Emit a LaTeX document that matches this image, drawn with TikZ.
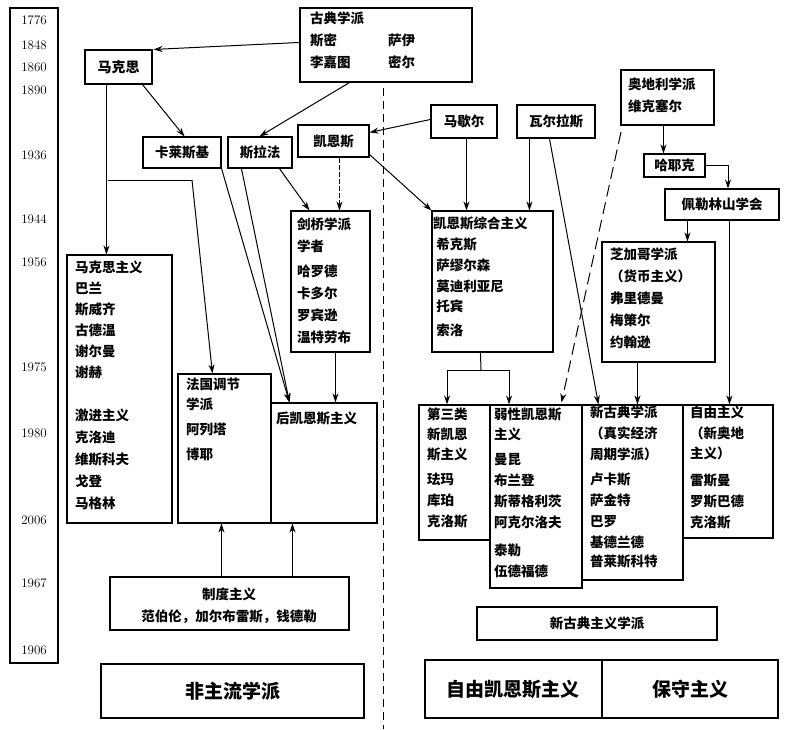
\documentclass[tikz,border=0pt]{standalone}
\usepackage{fontspec}
\newfontfamily\cjk{Noto Sans CJK SC}
\usetikzlibrary{fit,arrows.meta,calc}
\begin{document}
\begin{tikzpicture}[x=1pt,y=-1pt,
  box/.style={draw,line width=1.1pt,inner sep=0pt},
  txt/.style={font=\cjk\bfseries\fontsize{13.5}{22}\selectfont,align=left,inner sep=0pt,anchor=north west},
  yr/.style={font=\fontsize{13}{13}\selectfont,inner sep=0pt},
  big/.style={font=\cjk\bfseries\fontsize{19}{22}\selectfont,inner sep=0pt},
  ar/.style={line width=1pt,-{Stealth[length=9pt,width=6pt]}},
  ln/.style={line width=1pt}]
\useasboundingbox (0,0) rectangle (791,729);
\newcommand\bx[5]{\node[box,fit={(#2,#3)(#4,#5)}] (#1) {};}
% timeline
\bx{tl}{10}{8}{58}{663}
\foreach \yv/\yy [count=\i] in {1776/20,1848/45,1860/67,1890/90,1936/155,1944/219,1956/262,1975/367,1980/433,2006/520,1967/583,1906/650}
  \node[yr] (y\i) at (34,\yy) {\yv};
% boxes
\bx{gd}{300}{8}{472}{82}
\node[txt] (gdt) at (310,12) {古典学派\\斯密\\李嘉图};
\node[txt] (gdt2) at (388,34) {萨伊\\密尔};
\bx{mk}{85}{50}{152}{84}\node[big,font=\cjk\bfseries\fontsize{14}{16}\selectfont] (mkt) at (mk) {马克思};
\bx{kl}{143}{137}{221}{168}\node[txt,anchor=center] (klt) at (kl) {卡莱斯基};
\bx{sl}{228}{137}{292}{168}\node[txt,anchor=center] (slt) at (sl) {斯拉法};
\bx{ke}{298}{125}{369}{157}\node[txt,anchor=center] (ket) at (ke) {凯恩斯};
\bx{mr}{431}{105}{497}{138}\node[txt,anchor=center] (mrt) at (mr) {马歇尔};
\bx{wl}{517}{105}{595}{138}\node[txt,anchor=center] (wlt) at (wl) {瓦尔拉斯};
\bx{ad}{621}{70}{714}{125}
\node[txt] (adt) at (628,78) {奥地利学派\\维克塞尔};
\bx{hy}{644}{154}{705}{177}\node[txt,anchor=center] (hyt) at (hy) {哈耶克};
\bx{pl}{665}{189}{779}{220}\node[txt,anchor=center] (plt) at (pl) {佩勒林山学会};
\bx{jq}{291}{211}{370}{352}
\node[txt] (jqt) at (297,218) {剑桥学派\\学者\\[3pt]哈罗德\\卡多尔\\罗宾逊\\温特劳布};
\bx{zh}{432}{211}{553}{352}
\node[txt] (zht) at (433,217) {凯恩斯综合主义\\[-1pt]\ 希克斯\\[-1pt]\ 萨缪尔森\\[-1pt]\ 莫迪利亚尼\\[-2pt]\ 托宾\\[2pt]\ 索洛};
\bx{zj}{602}{242}{715}{362}
\node[txt] (zjt) at (610,248) {芝加哥学派\\（货币主义）\\弗里德曼\\梅策尔\\约翰逊};
\bx{mz}{67}{255}{172}{523}
\node[txt] (mzt) at (75,261) {马克思主义\\[-1pt]巴兰\\[-1pt]斯威齐\\[-1pt]古德温\\[-1pt]谢尔曼\\[-1pt]谢赫\\[21pt]激进主义\\克洛迪\\维斯科夫\\戈登\\马格林};
\bx{fg}{178}{374}{271}{523}
\node[txt] (fgt) at (186,378) {法国调节\\[-2pt]学派\\[3pt]阿列塔\\[3pt]博耶};
\bx{hk}{271}{403}{377}{523}
\node[txt] (hkt) at (276,412) {后凯恩斯主义};
\bx{zd}{110}{577}{349}{630}
\node[txt,anchor=center] (zdt) at (229,594) {制度主义};
\node[txt,anchor=center] (zdt2) at (229,617) {范伯伦，加尔布雷斯，钱德勒};
\bx{fz}{101}{664}{364}{718}\node[big] (fzt) at (fz) {非主流学派};
% right bottom
\bx{ds}{419}{405}{490}{540}
\node[txt] (dst) at (427,408) {第三类\\[-2pt]新凯恩\\[-2pt]斯主义\\[3pt]珐玛\\[-1pt]库珀\\[-1pt]克洛斯};
\bx{rx}{490}{405}{582}{588}
\node[txt] (rxt) at (494,408) {弱性凯恩斯\\[-2pt]主义\\[3pt]曼昆\\[-1pt]布兰登\\[-1pt]斯蒂格利茨\\[-1pt]阿克尔洛夫\\[6pt]泰勒\\[-1pt]伍德福德};
\bx{xg}{582}{405}{683}{580}
\node[txt] (xgt) at (590,406) {新古典学派\\[-1pt]（真实经济\\[-1pt]周期学派）\\[3pt]卢卡斯\\[-1pt]萨金特\\[-1pt]巴罗\\[-1pt]基德兰德\\[-3pt]普莱斯科特};
\bx{zy}{683}{405}{773}{538}
\node[txt] (zyt) at (690,406) {自由主义\\[-1pt]（新奥地\\[-2pt]主义）\\[5pt]雷斯曼\\[-1pt]罗斯巴德\\[-1pt]克洛斯};
\bx{xd}{477}{607}{717}{640}\node[txt,anchor=center] (xdt) at (xd) {新古典主义学派};
\bx{bt}{425}{660}{778}{718}
\coordinate (btd1) at (602,660); \coordinate (btd2) at (602,718);
\draw[line width=1.1pt] (btd1) -- (btd2);
\node[big] (bt1) at (513,689) {自由凯恩斯主义};
\node[big] (bt2) at (690,689) {保守主义};
% dashed divider
\coordinate (dv1) at (383,88); \coordinate (dv2) at (383,729);
\draw[line width=1pt,dash pattern=on 8pt off 5pt] (dv1) -- (dv2);
% arrows
\draw[ar] ($(gd.north west)+(0,35)$) -- ($(mk.north east)+(1,0)$);
\draw[ar] ($(gd.south west)+(50,0)$) -- ($(sl.north west)+(32,0)$);
\draw[ar] ($(mk.south west)+(58,0)$) -- ($(kl.north west)+(42,0)$);
\draw[ar] ($(mk.south west)+(22,0)$) -- ($(mz.north west)+(40,0)$);
\coordinate (br1) at (108,180); \coordinate (br2) at (192,180);
\draw[ln] (br1) -- (br2);
\draw[ar] (br2) -- ($(fg.north west)+(35,0)$);
\draw[ar] ($(kl.south east)+(0,0)$) -- ($(hk.north west)+(19,0)$);
\draw[ar] ($(sl.south west)+(14,0)$) -- ($(hk.north west)+(19,0)$);
\draw[ar] ($(sl.south west)+(52,0)$) -- ($(jq.north west)+(19,0)$);
\draw[ar,dash pattern=on 5pt off 2pt] ($(ke.south west)+(42,0)$) -- ($(jq.north west)+(49,0)$);
\draw[ar] ($(ke.south east)+(0,-3)$) -- (zh.north west);
\draw[ar] ($(mr.north west)+(0,15)$) -- ($(ke.north east)+(0,8)$);
\draw[ar] ($(mr.south west)+(36,0)$) -- ($(zh.north west)+(35,0)$);
\draw[ar] ($(wl.south west)+(13,0)$) -- ($(zh.north west)+(98,0)$);
\draw[ar] ($(wl.south west)+(33,0)$) -- ($(xg.north west)+(17,0)$);
\coordinate (ds0) at (621,132);
\draw[ar,dash pattern=on 12pt off 6pt] (ds0) -- ($(rx.north west)+(72,-2)$);
\draw[ar] ($(ad.south west)+(43,0)$) -- ($(hy.north west)+(20,0)$);
\coordinate (hyc) at (728,165);
\draw[ln] (hy.east |- hyc) -- (hyc);
\draw[ar] (hyc) -- (hyc |- pl.north);
\draw[ar] ($(pl.south west)+(23,0)$) -- ($(zj.north west)+(86,0)$);
\draw[ar] ($(pl.south west)+(65,0)$) -- ($(zy.north west)+(47,0)$);
\draw[ar] ($(zj.south west)+(36,0)$) -- ($(xg.north west)+(56,0)$);
\draw[ar] ($(jq.south west)+(45,0)$) -- ($(hk.north west)+(65,0)$);
\coordinate (zb) at (481,370); \coordinate (zl) at (447,370); \coordinate (zr) at (509,370);
\draw[ln] ($(zh.south west)+(49,0)$) -- (zb);
\draw[ln] (zl) -- (zr);
\draw[ar] (zl) -- (zl |- ds.north);
\draw[ar] (zr) -- (zr |- rx.north);
\draw[ar] ($(zd.north west)+(112,0)$) -- ($(fg.south west)+(44,0)$);
\draw[ar] ($(zd.north west)+(183,0)$) -- ($(hk.south west)+(22,0)$);
\end{tikzpicture}
\end{document}
